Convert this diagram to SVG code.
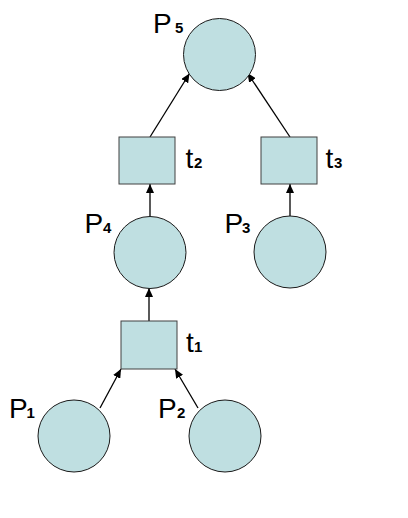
<svg xmlns="http://www.w3.org/2000/svg" width="408" height="518" viewBox="0 0 408 518">
<style>
.place{fill:#BFDFE1;stroke:#1a1a1a;stroke-width:1}
.trans{fill:#BFDFE1;stroke:#404040;stroke-width:1}
.lbl{font-family:"Liberation Sans",Arial,sans-serif;font-size:28px;fill:#000}
.sub{font-size:15px;font-weight:bold}
.arc{stroke:#000;stroke-width:1.3;fill:none}
</style>
<defs>
<marker id="ah" markerUnits="userSpaceOnUse" markerWidth="10" markerHeight="8" refX="9" refY="4" orient="auto">
<path d="M0,0 L9,4 L0,8 z" fill="#000"/>
</marker>
</defs>
<rect width="408" height="518" fill="#fff"/>
<g id="connectors">
<line class="arc" x1="150" y1="217" x2="150" y2="184" marker-end="url(#ah)"/>
<line class="arc" x1="290" y1="216" x2="290" y2="184" marker-end="url(#ah)"/>
<line class="arc" x1="149" y1="321" x2="149" y2="288" marker-end="url(#ah)"/>
<line class="arc" x1="100" y1="408" x2="121" y2="369" marker-end="url(#ah)"/>
<line class="arc" x1="198" y1="408" x2="175" y2="369" marker-end="url(#ah)"/>
<line class="arc" x1="150" y1="137" x2="189.5" y2="73.5" marker-end="url(#ah)"/>
<line class="arc" x1="290" y1="137" x2="247.5" y2="73" marker-end="url(#ah)"/>
</g>
<g id="P5"><circle class="place" cx="219.5" cy="54.5" r="36"/><text class="lbl" x="153" y="33">P<tspan class="sub" x="175">5</tspan></text></g>
<g id="t2"><rect class="trans" x="119" y="137" width="56" height="47"/><text class="lbl" x="185.5" y="168">t<tspan class="sub" x="194">2</tspan></text></g>
<g id="t3"><rect class="trans" x="261" y="137" width="56" height="47"/><text class="lbl" x="325.5" y="168">t<tspan class="sub" x="334">3</tspan></text></g>
<g id="P4"><circle class="place" cx="150" cy="252.5" r="36"/><text class="lbl" x="84.5" y="233">P<tspan class="sub" x="103">4</tspan></text></g>
<g id="P3"><circle class="place" cx="290" cy="252" r="36"/><text class="lbl" x="224.5" y="233">P<tspan class="sub" x="242">3</tspan></text></g>
<g id="t1"><rect class="trans" x="121" y="321" width="56" height="48"/><text class="lbl" x="186" y="352">t<tspan class="sub" x="194">1</tspan></text></g>
<g id="P1"><circle class="place" cx="74" cy="436" r="36"/><text class="lbl" x="9" y="418">P<tspan class="sub" x="26.5">1</tspan></text></g>
<g id="P2"><circle class="place" cx="225" cy="436" r="36"/><text class="lbl" x="158" y="418">P<tspan class="sub" x="177">2</tspan></text></g>
</svg>
